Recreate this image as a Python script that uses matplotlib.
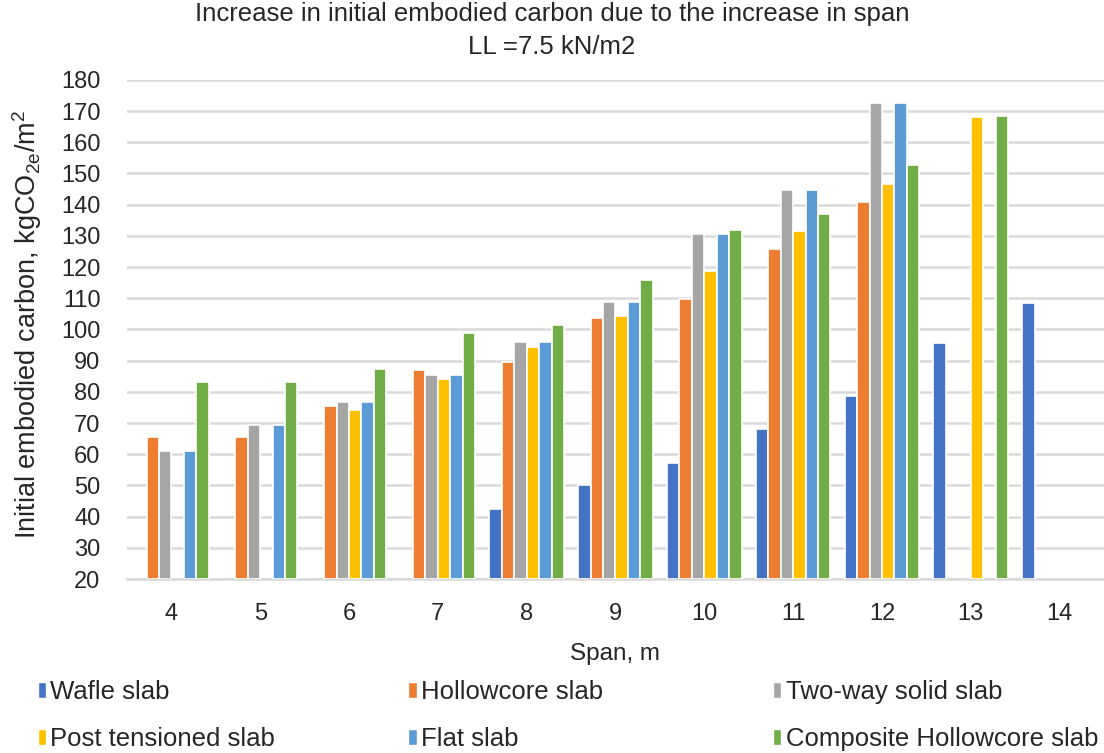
import numpy as np
import matplotlib
matplotlib.use("Agg")
import matplotlib.pyplot as plt
from matplotlib.patches import Patch

plt.rcParams["font.family"] = ["Liberation Sans", "DejaVu Sans"]

spans = [4, 5, 6, 7, 8, 9, 10, 11, 12, 13, 14]

nan = np.nan
wafle = [nan, nan, nan, nan, 42.4, 50.1, 57.3, 68.2, 78.6, 95.5, 108.4]
hollowcore = [65.4, 65.4, 75.6, 86.9, 89.6, 103.7, 109.8, 125.8, 141.0, nan, nan]
two_way = [61.0, 69.5, 76.9, 85.3, 96.0, 108.8, 130.7, 144.7, 172.5, nan, nan]
post_tensioned = [nan, nan, 74.3, 84.1, 94.4, 104.4, 118.6, 131.4, 146.7, 168.0, nan]
flat = [61.0, 69.5, 76.9, 85.3, 96.0, 108.8, 130.7, 144.7, 172.5, nan, nan]
composite = [83.2, 83.2, 87.3, 99.0, 101.5, 115.8, 131.8, 137.1, 152.7, 168.4, nan]

series_names = ["Wafle slab", "Hollowcore slab", "Two-way solid slab",
                "Post tensioned slab", "Flat slab", "Composite Hollowcore slab"]
series = [wafle, hollowcore, two_way, post_tensioned, flat, composite]
colors = ["#4472C4", "#ED7D31", "#A5A5A5", "#FFC000", "#5B9BD5", "#70AD47"]

TXT = "#262626"

fig = plt.figure(figsize=(11.04, 7.53), dpi=100)
ax = fig.add_axes([0.115, 0.231, 0.885, 0.663])

x = np.arange(len(spans))
slot = 0.14
for i, (vals, c) in enumerate(zip(series, colors)):
    offs = (i - 2.5) * slot
    vals = np.array(vals, dtype=float)
    m = ~np.isnan(vals)
    # bars start at the axis minimum like Excel
    ax.bar(x[m] + offs, vals[m] - 20, bottom=20, width=slot, color=c,
           edgecolor="white", linewidth=1.2, zorder=3)

ax.set_ylim(20, 180)
ax.set_yticks(range(20, 181, 10))
ax.set_xlim(-0.5, len(spans) - 0.5)
ax.set_xticks(x)
ax.set_xticklabels([str(s) for s in spans])
ax.tick_params(axis="both", length=0, labelsize=17, colors=TXT)
ax.tick_params(axis="y", pad=19)
ax.tick_params(axis="x", pad=17)
ax.grid(axis="y", color="#d9d9d9", linewidth=1.8, zorder=0)
for s in ["top", "right", "left"]:
    ax.spines[s].set_visible(False)
ax.spines["bottom"].set_color("#d9d9d9")
ax.spines["bottom"].set_linewidth(1.8)

ax.set_ylabel("Initial embodied carbon, kgCO$_{\\mathregular{2e}}$/m$^{\\mathregular{2}}$",
              fontsize=19.5, color=TXT)
ax.yaxis.set_label_coords(-0.085, 0.51)
ax.set_xlabel("Span, m", fontsize=17.5, color=TXT, labelpad=13)

fig.text(0.5, 0.997, "Increase in initial embodied carbon due to the increase in span\nLL =7.5 kN/m2",
         ha="center", va="top", fontsize=18.5, color=TXT, linespacing=1.45)

# legend: three columns, two rows, placed like the Excel one
col_x = [0.034, 0.370, 0.700]
for k, cx in enumerate(col_x):
    idx = [k, k + 3]
    fig.legend([Patch(facecolor=colors[i], edgecolor="white") for i in idx],
               [series_names[i] for i in idx],
               loc="upper left", bbox_to_anchor=(cx, 0.097), frameon=False,
               borderpad=0, borderaxespad=0, fontsize=18.5,
               handlelength=0.32, handleheight=0.62, handletextpad=0.18,
               labelspacing=0.9, labelcolor=TXT)

fig.savefig("out.png", dpi=100)
